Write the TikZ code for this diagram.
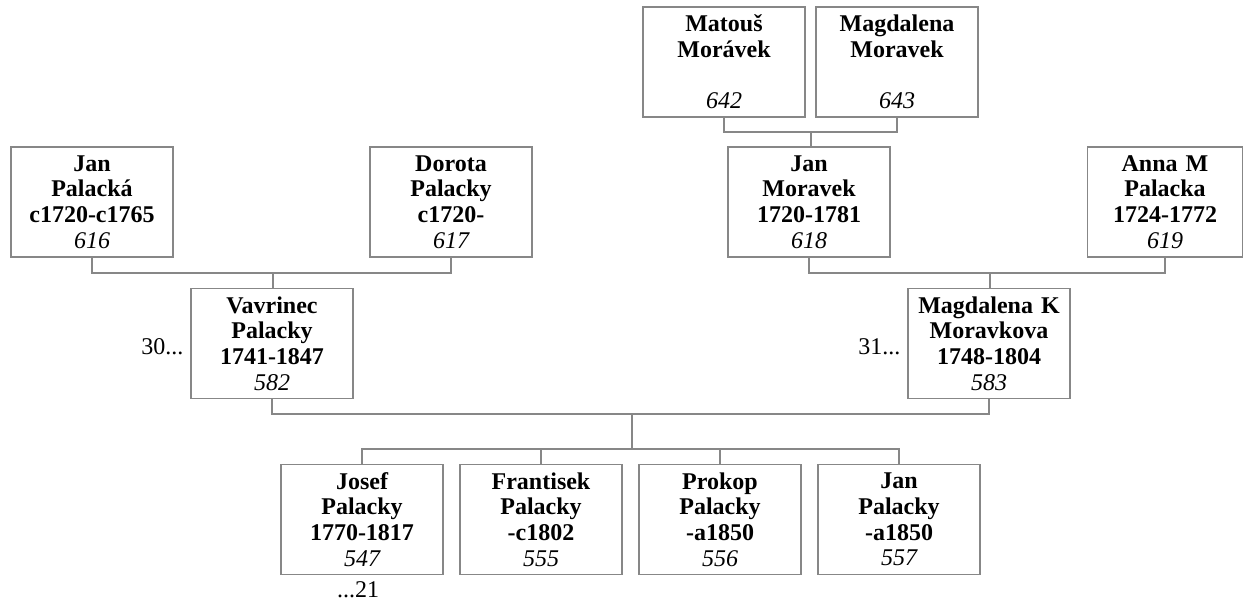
\documentclass[tikz,border=0pt]{standalone}
\usepackage{fontspec}
\setmainfont{Liberation Serif}
\definecolor{boxgray}{RGB}{135,135,135}

\begin{document}
\begin{tikzpicture}[x=0.75pt, y=-0.75pt,
    person/.style={draw=boxgray, line width=1pt, inner sep=0pt, align=center,
        text width=115pt, minimum width=121.5pt, minimum height=82.5pt,
        font=\fontsize{18}{19.3}\selectfont\bfseries},
    link/.style={draw=boxgray, line width=0.8pt},
    more/.style={inner sep=0pt, font=\fontsize{18}{19.3}\selectfont}]
    \useasboundingbox (0,0) rectangle (1243,603);

    % Great-grandparents
    \node[person] (matous) at (724,62) {Matouš\\ Morávek\\ \mbox{}\\ {\mdseries\itshape 642}};
    \node[person] (magmor) at (897,62) {Magdalena\\ Moravek\\ \mbox{}\\ {\mdseries\itshape 643}};

    % Grandparents
    \node[person] (janpal) at (92,202) {Jan\\ Palacká\\ c1720-c1765\\ {\mdseries\itshape 616}};
    \node[person] (dorota) at (451,202) {Dorota\\ Palacky\\ c1720-\\ {\mdseries\itshape 617}};
    \node[person] (janmor) at (809,202) {Jan\\ Moravek\\ 1720-1781\\ {\mdseries\itshape 618}};
    \node[person, text width=110pt, minimum width=116pt] (anna) at (1165,202) {Anna M\\ Palacka\\ 1724-1772\\ {\mdseries\itshape 619}};

    % Parents
    \node[person] (vavrinec) at (272,343.5) {Vavrinec\\ Palacky\\ 1741-1847\\ {\mdseries\itshape 582}};
    \node[person] (magk) at (989,343.5) {Magdalena K\\ Moravkova\\ 1748-1804\\ {\mdseries\itshape 583}};
    \node[more, anchor=east] (vmore) at ([xshift=-5pt, yshift=-2.5pt]vavrinec.west) {30...};
    \node[more, anchor=east] (mmore) at ([xshift=-5pt, yshift=-2.5pt]magk.west) {31...};

    % Children
    \node[person] (josef) at (362,519.5) {Josef\\ Palacky\\ 1770-1817\\ {\mdseries\itshape 547}};
    \node[person] (frant) at (541,519.5) {Frantisek\\ Palacky\\ -c1802\\ {\mdseries\itshape 555}};
    \node[person] (prokop) at (720,519.5) {Prokop\\ Palacky\\ -a1850\\ {\mdseries\itshape 556}};
    \node[person] (jankid) at (899,519.5) {Jan\\ Palacky\\ -a1850\\ {\mdseries\itshape 557}};
    \node[more, anchor=north] (jmore) at ([xshift=-3pt, yshift=-5pt]josef.south) {...21};

    % Bars
    \coordinate (barA) at (811,132);
    \coordinate (barB) at (273,273);
    \coordinate (barC) at (990,273);
    \coordinate (barD) at (632,414);
    \coordinate (barE) at (632,449);

    % Lines
    \draw[link] (matous.south) |- (barA) -| (magmor.south);
    \draw[link] (barA) -- (barA |- janmor.north);
    \draw[link] (janpal.south) |- (barB) -| (dorota.south);
    \draw[link] (barB) -- (barB |- vavrinec.north);
    \draw[link] (janmor.south) |- (barC) -| (anna.south);
    \draw[link] (barC) -- (barC |- magk.north);
    \draw[link] (vavrinec.south) |- (barD) -| (magk.south);
    \draw[link] (barD) -- (barE);
    \draw[link] (josef.north) |- (barE) -| (jankid.north);
    \draw[link] (frant.north) -- (frant.north |- barE);
    \draw[link] (prokop.north) -- (prokop.north |- barE);
\end{tikzpicture}
\end{document}
